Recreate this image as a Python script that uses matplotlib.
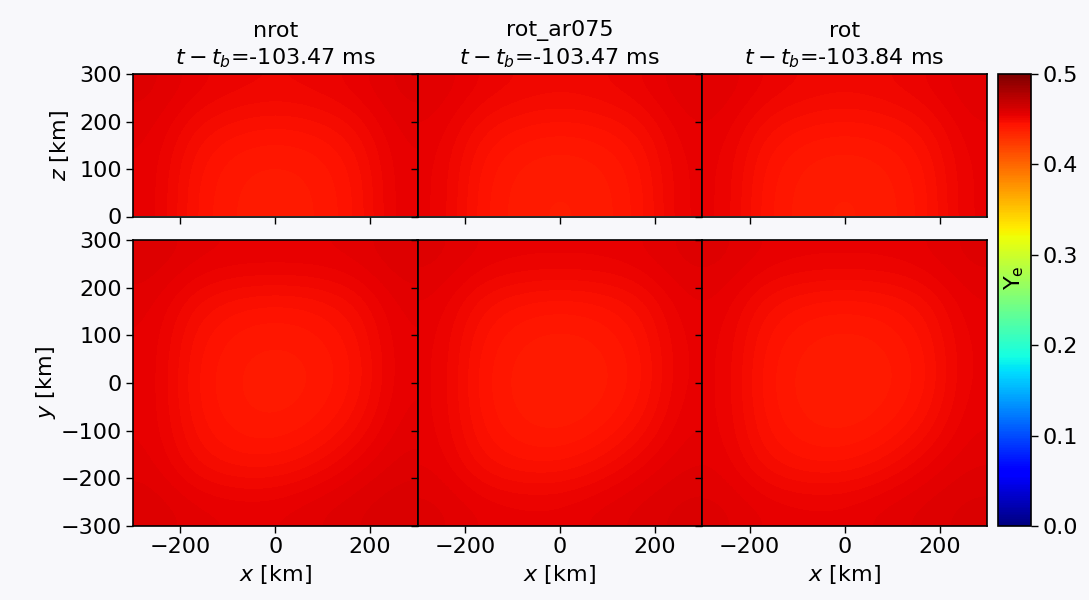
import numpy as np
import matplotlib
matplotlib.use("Agg")
import matplotlib.pyplot as plt

plt.rcParams["font.family"] = ["DejaVu Sans"]
plt.rcParams["font.size"] = 16
plt.rcParams["mathtext.fontset"] = "dejavusans"

# Model names and time relative to bounce
models = ["nrot", "rot_ar075", "rot"]
t_minus_tb = [-103.47, -103.47, -103.84]

# Coarse Ye samples on a 100 km grid, x = -300..300 (columns)
# Meridional slices: rows z = 300, 200, 100, 0
ye_xz = {
    "nrot": [
        [0.458, 0.454, 0.452, 0.451, 0.452, 0.454, 0.458],
        [0.456, 0.449, 0.446, 0.445, 0.446, 0.449, 0.456],
        [0.455, 0.446, 0.442, 0.441, 0.442, 0.446, 0.455],
        [0.455, 0.445, 0.441, 0.440, 0.441, 0.445, 0.455],
    ],
    "rot_ar075": [
        [0.457, 0.453, 0.451, 0.450, 0.451, 0.453, 0.457],
        [0.455, 0.448, 0.445, 0.444, 0.445, 0.448, 0.455],
        [0.454, 0.445, 0.441, 0.440, 0.441, 0.445, 0.454],
        [0.454, 0.444, 0.440, 0.439, 0.440, 0.444, 0.454],
    ],
    "rot": [
        [0.457, 0.453, 0.451, 0.450, 0.451, 0.453, 0.457],
        [0.455, 0.448, 0.445, 0.444, 0.445, 0.448, 0.455],
        [0.454, 0.445, 0.441, 0.440, 0.441, 0.445, 0.454],
        [0.454, 0.444, 0.440, 0.439, 0.440, 0.444, 0.454],
    ],
}

# Equatorial slices: rows y = 300, 200, ..., -300
ye_xy = {
    "nrot": [
        [0.459, 0.456, 0.455, 0.455, 0.455, 0.456, 0.459],
        [0.456, 0.449, 0.446, 0.445, 0.446, 0.449, 0.456],
        [0.455, 0.446, 0.442, 0.441, 0.442, 0.446, 0.455],
        [0.455, 0.445, 0.441, 0.440, 0.441, 0.445, 0.455],
        [0.455, 0.446, 0.442, 0.441, 0.443, 0.448, 0.456],
        [0.456, 0.449, 0.446, 0.446, 0.449, 0.454, 0.458],
        [0.459, 0.456, 0.455, 0.455, 0.457, 0.459, 0.461],
    ],
    "rot_ar075": [
        [0.458, 0.455, 0.454, 0.454, 0.454, 0.455, 0.458],
        [0.455, 0.448, 0.445, 0.444, 0.445, 0.448, 0.455],
        [0.454, 0.445, 0.441, 0.440, 0.441, 0.445, 0.454],
        [0.454, 0.444, 0.440, 0.439, 0.440, 0.444, 0.454],
        [0.454, 0.445, 0.441, 0.440, 0.442, 0.447, 0.455],
        [0.455, 0.448, 0.445, 0.445, 0.448, 0.453, 0.457],
        [0.458, 0.455, 0.454, 0.454, 0.456, 0.458, 0.460],
    ],
    "rot": [
        [0.458, 0.455, 0.454, 0.454, 0.454, 0.455, 0.458],
        [0.455, 0.448, 0.445, 0.444, 0.445, 0.448, 0.455],
        [0.454, 0.445, 0.441, 0.440, 0.441, 0.445, 0.454],
        [0.454, 0.444, 0.440, 0.439, 0.440, 0.444, 0.454],
        [0.454, 0.445, 0.441, 0.440, 0.442, 0.447, 0.455],
        [0.455, 0.448, 0.445, 0.445, 0.448, 0.453, 0.457],
        [0.458, 0.455, 0.454, 0.454, 0.456, 0.458, 0.460],
    ],
}

ye_min, ye_max = 0.0, 0.5
cbar_ticks = [0.0, 0.1, 0.2, 0.3, 0.4, 0.5]
x_ticks = [-200, 0, 200]
z_ticks = [0, 100, 200, 300]
y_ticks = [-300, -200, -100, 0, 100, 200, 300]

W, H = 1089, 600
fig = plt.figure(figsize=(W / 100, H / 100), dpi=100, facecolor="#f8f8fb")


def px_axes(x0, y0, x1, y1):
    """Axes from pixel box (left, top, right, bottom)."""
    return fig.add_axes([x0 / W, 1 - y1 / H, (x1 - x0) / W, (y1 - y0) / H])


col_edges = [133, 417.5, 702, 987]
im = None
for i, name in enumerate(models):
    ax_top = px_axes(col_edges[i], 74, col_edges[i + 1], 216.5)
    ax_bot = px_axes(col_edges[i], 240, col_edges[i + 1], 526)

    im = ax_top.imshow(np.array(ye_xz[name]), cmap="jet", vmin=ye_min, vmax=ye_max,
                       extent=[-300, 300, 0, 300], origin="upper",
                       interpolation="bicubic", aspect="auto")
    ax_bot.imshow(np.array(ye_xy[name]), cmap="jet", vmin=ye_min, vmax=ye_max,
                  extent=[-300, 300, -300, 300], origin="upper",
                  interpolation="bicubic", aspect="auto")

    ax_top.set_title(f"{name}\n$t-t_b$={t_minus_tb[i]:.2f} ms", fontsize=16, pad=7,
                     linespacing=1.3)

    for ax in (ax_top, ax_bot):
        ax.set_xlim(-300, 300)
        ax.set_xticks(x_ticks)
        ax.tick_params(length=5, width=1.0, pad=3, labelsize=16)
        for s in ax.spines.values():
            s.set_linewidth(1.2)
    ax_top.set_ylim(0, 300)
    ax_top.set_yticks(z_ticks)
    ax_bot.set_ylim(-300, 300)
    ax_bot.set_yticks(y_ticks)
    ax_top.set_xticklabels([])
    ax_bot.set_xlabel("$x$ [km]", fontsize=16, labelpad=4)
    if i == 0:
        ax_top.set_ylabel("$z$ [km]", fontsize=16, labelpad=6)
        ax_bot.set_ylabel("$y$ [km]", fontsize=16, labelpad=2)
    else:
        ax_top.set_yticklabels([])
        ax_bot.set_yticklabels([])

cax = px_axes(998, 74, 1031, 526)
cb = fig.colorbar(im, cax=cax, ticks=cbar_ticks)
cb.ax.set_yticklabels([f"{t:.1f}" for t in cbar_ticks])
cb.ax.tick_params(length=5, width=1.0, pad=3, labelsize=16)
cb.outline.set_linewidth(1.2)
cax.text(0.5, 0.55, r"$\mathrm{Y_e}$", transform=cax.transAxes, rotation=90,
         ha="center", va="center", fontsize=16)

fig.savefig("out.png", dpi=100, facecolor=fig.get_facecolor())
